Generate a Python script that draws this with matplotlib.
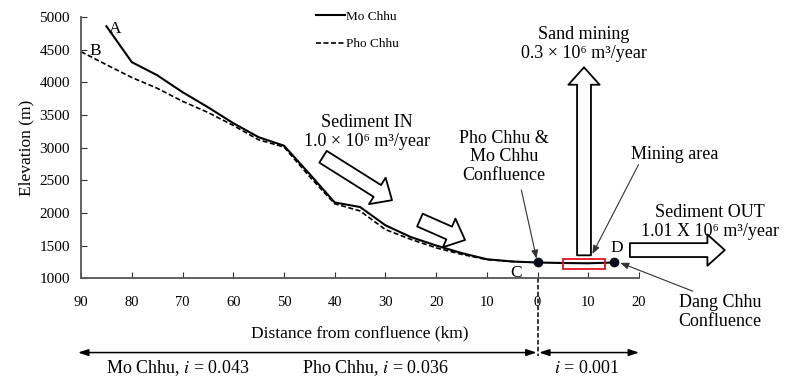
import matplotlib.pyplot as plt
from matplotlib.patches import FancyArrowPatch, Rectangle

plt.rcParams["font.family"] = ["Liberation Serif", "DejaVu Serif"]
plt.rcParams["mathtext.fontset"] = "stix"

# distance from confluence (km), upstream negative
mo_km = [-85, -80, -75, -70, -65, -60, -55, -50, -45, -40, -35, -30, -25, -20, -15, -10, -5, 0, 5, 10, 15]
mo_elev = [4860, 4310, 4110, 3850, 3620, 3375, 3160, 3030, 2600, 2160, 2090, 1810, 1630, 1500, 1385, 1290, 1255, 1240, 1232, 1228, 1240]
pho_km = [-90, -85, -80, -75, -70, -65, -60, -55, -50, -45, -40, -35, -30, -25, -20, -15, -10, -5, 0]
pho_elev = [4470, 4270, 4075, 3910, 3710, 3540, 3340, 3120, 3010, 2560, 2140, 2030, 1745, 1595, 1465, 1365, 1285, 1255, 1240]

point_km = [0, 15]
point_elev = [1240, 1240]

xticks = list(range(-90, 30, 10))
xlabels = [str(abs(v)) for v in xticks]
yticks = list(range(1000, 5500, 500))

fig = plt.figure(figsize=(7.87, 3.80), dpi=100)
ax = fig.add_axes([0.103, 0.268, 0.709, 0.687])

ax.plot(mo_km, mo_elev, color="black", lw=1.5, label="Mo Chhu")
ax.plot(pho_km, pho_elev, color="black", lw=1.2, ls=(0, (3, 1.5)), label="Pho Chhu")
ax.plot(point_km, point_elev, "o", color="#0a0a1e", ms=6, zorder=5)

ax.set_xlim(-90, 20)
ax.set_ylim(1000, 5000)
ax.set_xticks(xticks)
ax.set_xticklabels(xlabels)
ax.set_yticks(yticks)
ax.tick_params(axis="x", direction="in", length=4, pad=13, labelsize=10.5, colors="#333333")
ax.tick_params(axis="y", direction="in", length=4, pad=8, labelsize=11, colors="#333333")
ax.tick_params(labelcolor="black")
for s in ["top", "right"]:
    ax.spines[s].set_visible(False)
for s in ["left", "bottom"]:
    ax.spines[s].set_color("#555555")
    ax.spines[s].set_linewidth(1.3)

ax.set_ylabel("Elevation (m)", fontsize=12.5, labelpad=4)
ax.set_xlabel("Distance from confluence (km)", fontsize=12.5, labelpad=12)

ax.legend(loc="upper left", bbox_to_anchor=(0.40, 1.07), frameon=False, fontsize=9.5,
          handlelength=2.2, handletextpad=0.1, labelspacing=1.15)

# point labels
ax.text(-84.5, 4760, "A", fontsize=12.5)
ax.text(-88.3, 4420, "B", fontsize=12.5)
ax.text(-5.3, 1020, "C", fontsize=12.5)
ax.text(14.4, 1400, "D", fontsize=12.5)

# mining area box
ax.add_patch(Rectangle((5, 1140), 8.2, 160, fill=False, ec="#e8141c", lw=1.3, zorder=4))

def block(x0, y0, x1, y1):
    ax.add_patch(FancyArrowPatch((x0, y0), (x1, y1),
                 arrowstyle="simple,head_width=1.8,head_length=1.0,tail_width=0.8",
                 mutation_scale=12.5, fc="white", ec="black", lw=1.3,
                 shrinkA=0, shrinkB=0, clip_on=False, zorder=3))

block(-42.3, 2860, -28.7, 2195)
block(-23.2, 1890, -14.3, 1585)
block(9.15, 1350, 9.15, 4230)
block(18.2, 1430, 36.9, 1430)

big = 13
ax.text(-33.6, 3240, "Sediment IN\n1.0 \u00d7 10\u2076 m\u00b3/year", ha="center", va="center",
        fontsize=big, linespacing=1.1)
ax.text(-6.6, 2860, "Pho Chhu &\nMo Chhu\nConfluence", ha="center", va="center",
        fontsize=big, linespacing=1.1)
ax.text(9.15, 4590, "Sand mining\n0.3 \u00d7 10\u2076 m\u00b3/year", ha="center", va="center",
        fontsize=big, linespacing=1.15)
ax.text(27.1, 2890, "Mining area", ha="center", va="center", fontsize=big, clip_on=False)
ax.text(34, 1860, "Sediment OUT\n1.01 X 10\u2076 m\u00b3/year", ha="center", va="center",
        fontsize=big, linespacing=1.1, clip_on=False)
ax.text(36, 480, "Dang Chhu\nConfluence", ha="center", va="center",
        fontsize=big, linespacing=1.1, clip_on=False)

thin = dict(arrowstyle="-|>,head_width=0.2,head_length=0.5", color="#333333", lw=0.8,
            shrinkA=0, shrinkB=0)
ax.annotate("", xy=(-0.2, 1300), xytext=(-3.2, 2350), arrowprops=thin, annotation_clip=False)
ax.annotate("", xy=(10.8, 1370), xytext=(19.9, 2740), arrowprops=thin, annotation_clip=False)
ax.annotate("", xy=(16.3, 1235), xytext=(30.6, 800), arrowprops=thin, annotation_clip=False)

# slope arrows below the axis
tr = ax.get_xaxis_transform()
ax.plot([0, 0], [0, -0.30], color="black", lw=1.1, ls=(0, (3, 1.5)), transform=tr, clip_on=False)
dbl = dict(arrowstyle="<|-|>,head_width=0.2,head_length=0.6", color="black", lw=1.1,
           shrinkA=0, shrinkB=0)
ax.annotate("", xy=(-90.6, -0.285), xytext=(-0.2, -0.285), xycoords=tr, textcoords=tr,
            arrowprops=dbl, annotation_clip=False)
ax.annotate("", xy=(0.3, -0.285), xytext=(20, -0.285), xycoords=tr, textcoords=tr,
            arrowprops=dbl, annotation_clip=False)
ax.text(-71, -0.345, "Mo Chhu, $i$ = 0.043", transform=tr, ha="center", va="center", fontsize=13)
ax.text(-32, -0.345, "Pho Chhu, $i$ = 0.036", transform=tr, ha="center", va="center", fontsize=13)
ax.text(9.8, -0.345, "$i$ = 0.001", transform=tr, ha="center", va="center", fontsize=13)

fig.savefig("out.png", dpi=100)
